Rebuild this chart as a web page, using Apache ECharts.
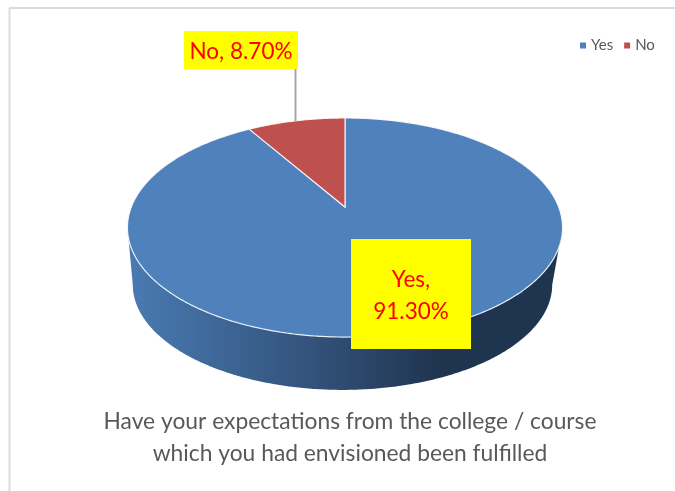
<!DOCTYPE html>
<html>
<head>
<meta charset="utf-8">
<style>html,body{margin:0;padding:0;background:#fff}#c{width:675px;height:491px}</style>
<script src="https://cdn.jsdelivr.net/npm/echarts@6/dist/echarts.min.js"></script>
</head>
<body>
<div id="c"></div>
<script>
const categories = ['Yes', 'No'];
const shares = [91.3, 8.7];
const sliceColors = ['#4F81BD', '#BE504D'];
const titleLines = ['Have your expectations from the college / course', 'which you had envisioned been fulfilled'];

// Perspective disc used to project the slices
const view = { cx: 345, baseCx: 342.5, k: 0.1873, topY: 207, topR: 213.7, topH: 105.7, baseY: 265, baseR: 206, baseH: 101.5 };
const FONT = 'Lato';

function project(theta, cx, y0, r, h) {
  const u = Math.sin(theta), v = -Math.cos(theta), s = 1 / (1 - view.k * v);
  return [cx + r * u * s, y0 + h * v * s];
}
const topPt = t => project(t, view.cx, view.topY, view.topR, view.topH);
const basePt = t => project(t, view.baseCx, view.baseY, view.baseR, view.baseH);
function arc(fn, a, b) {
  const n = Math.max(2, Math.ceil(Math.abs(b - a) / 0.01)), pts = [];
  for (let i = 0; i <= n; i++) pts.push(fn(a + (b - a) * i / n));
  return pts;
}
const total = shares.reduce((a, b) => a + b, 0);
const angles = value => value / total * Math.PI * 2;
const frontStart = Math.acos(-view.k), frontEnd = Math.PI * 2 - frontStart;

function sliceRenderer(index) {
  return function () {
    let start = 0;
    for (let i = 0; i < index; i++) start += angles(shares[i]);
    const end = start + angles(shares[index]);
    const children = [];
    const a = Math.max(start, frontStart), b = Math.min(end, frontEnd);
    if (b > a) {
      const rimTop = arc(topPt, a, b), rimBase = arc(basePt, b, a);
      children.push({
        type: 'polygon',
        shape: { points: rimTop.concat(rimBase) },
        style: {
          fill: new echarts.graphic.LinearGradient(127, 0, 562, 0, [
            { offset: 0, color: '#4A7BB3' },
            { offset: 0.5, color: '#2E4B70' },
            { offset: 0.72, color: '#1F344E' },
            { offset: 1, color: '#1F344E' }
          ], true)
        }
      });
    }
    const wedge = [[view.cx, view.topY]].concat(arc(topPt, start, end));
    children.push({
      type: 'polygon',
      shape: { points: wedge },
      style: { fill: sliceColors[index], stroke: '#fff', lineWidth: 1.2, strokeOpacity: 0.85 }
    });
    return { type: 'group', children };
  };
}

function labelRenderer() {
  const boxes = [
    { x: 351, y: 239, w: 120, h: 110 },
    { x: 184, y: 31, w: 114, h: 38 }
  ];
  const texts = [
    `${categories[0]},\n${shares[0].toFixed(2)}%`,
    `${categories[1]}, ${shares[1].toFixed(2)}%`
  ];
  const children = [{
    type: 'line',
    shape: { x1: 295.5, y1: 69, x2: 295.5, y2: 121 },
    style: { stroke: '#A6A6A6', lineWidth: 2 }
  }];
  boxes.forEach((b, i) => {
    children.push({ type: 'rect', shape: { x: b.x, y: b.y, width: b.w, height: b.h }, style: { fill: '#FFFF00' } });
    children.push({
      type: 'text',
      x: b.x + b.w / 2, y: b.y + b.h / 2 + 2,
      style: {
        text: texts[i], fill: '#FF0000', font: `22.5px ${FONT}`,
        align: 'center', verticalAlign: 'middle', lineHeight: 32
      }
    });
  });
  return { type: 'group', children };
}

const chart = echarts.init(document.getElementById('c'), null, { renderer: 'canvas' });
chart.setOption({
  animation: false,
  backgroundColor: '#fff',
  title: {
    text: titleLines.join('\n'),
    left: 345, top: 401, textAlign: 'center',
    textStyle: { fontFamily: FONT, fontSize: 22.8, fontWeight: 'normal', color: '#595959', lineHeight: 31.5 }
  },
  legend: {
    data: categories,
    left: 575, top: 33,
    icon: 'rect', itemWidth: 6, itemHeight: 6, itemGap: 11,
    textStyle: { fontFamily: FONT, fontSize: 15, color: '#595959', padding: [0, 0, 0, 0] },
    selectedMode: false
  },
  series: [
    { type: 'custom', name: categories[0], data: [shares[0]], coordinateSystem: 'none', renderItem: sliceRenderer(0), itemStyle: { color: '#4F81BD' }, silent: true, z: 2 },
    { type: 'custom', name: categories[1], data: [shares[1]], coordinateSystem: 'none', renderItem: sliceRenderer(1), itemStyle: { color: '#C0504D' }, silent: true, z: 3 },
    { type: 'custom', name: 'labels', data: [0], coordinateSystem: 'none', renderItem: labelRenderer, silent: true, z: 4 }
  ],
  graphic: [
    { type: 'line', shape: { x1: 9.5, y1: 8, x2: 9.5, y2: 491 }, style: { stroke: '#DCDCDC', lineWidth: 2 }, silent: true },
    { type: 'line', shape: { x1: 9, y1: 8, x2: 675, y2: 8 }, style: { stroke: '#DCDCDC', lineWidth: 2 }, silent: true }
  ]
});
</script>
</body>
</html>
